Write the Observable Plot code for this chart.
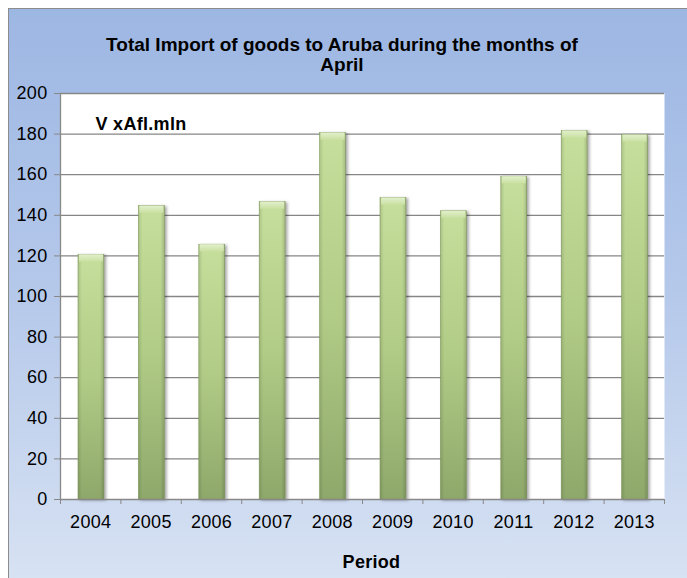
<!DOCTYPE html>
<html>
<head>
<meta charset="utf-8">
<script src="https://cdn.jsdelivr.net/npm/d3@7"></script>
<script src="https://cdn.jsdelivr.net/npm/@observablehq/plot@0.6"></script>
<style>
  html, body { margin: 0; padding: 0; background: #fff; }
  #wrap { position: relative; width: 687px; height: 578px; overflow: hidden; background: #fff;
          font-family: "Liberation Sans", Arial, sans-serif; }
  #frame { position: absolute; left: 8px; top: 8px; width: 720px; height: 620px;
           border-top: 1.5px solid #8c8c8c; border-left: 1.5px solid #8c8c8c; box-sizing: border-box;
           background: linear-gradient(to bottom, #9db7e3 0%, #b4c8ea 45%, #dde6f4 100%); }
  #title { position: absolute; left: 0; top: 35px; width: 684px; text-align: center;
           font-size: 19px; line-height: 20px; font-weight: bold; color: #000; }
  #chart { position: absolute; left: 0; top: 80px; }
  .chart text { letter-spacing: 0.3px; }
  .bar { filter: drop-shadow(2px 1px 1.5px rgba(0,0,0,0.35)); }
</style>
</head>
<body>
<div id="wrap">
  <div id="frame"></div>
  <div id="title">Total Import of goods to Aruba during the months of<br>April</div>
  <div id="chart"></div>
</div>
<script>
const years = ["2004", "2005", "2006", "2007", "2008", "2009", "2010", "2011", "2012", "2013"];
const values = [120.5, 144.5, 125.5, 146.5, 180.5, 148.5, 142, 159, 181.5, 179.5];
const yTicks = [0, 20, 40, 60, 80, 100, 120, 140, 160, 180, 200];
const unitLabel = "V xAfl.mln";
const xLabel = "Period";

const data = years.map((year, i) => ({year, i, value: values[i]}));

const defs = () => {
  const ns = "http://www.w3.org/2000/svg";
  const d = document.createElementNS(ns, "defs");
  d.innerHTML = `
    <linearGradient id="barGrad" x1="0" y1="0" x2="0" y2="1">
      <stop offset="0" stop-color="#c6df9c"/>
      <stop offset="0.5" stop-color="#b1cc86"/>
      <stop offset="1" stop-color="#8ea86b"/>
    </linearGradient>
    <linearGradient id="edgeGrad" x1="0" y1="0" x2="1" y2="0">
      <stop offset="0" stop-color="#000" stop-opacity="0.12"/>
      <stop offset="0.15" stop-color="#000" stop-opacity="0"/>
      <stop offset="0.85" stop-color="#000" stop-opacity="0"/>
      <stop offset="1" stop-color="#000" stop-opacity="0.15"/>
    </linearGradient>
    <linearGradient id="capGrad" x1="0" y1="0" x2="0" y2="1">
      <stop offset="0" stop-color="#e2f0cb"/>
      <stop offset="1" stop-color="#c9e0a2"/>
    </linearGradient>`;
  return d;
};

const chart = Plot.plot({
  width: 687,
  height: 498,
  marginLeft: 60,
  marginRight: 23,
  marginTop: 13,
  marginBottom: 79,
  className: "chart",
  style: {background: "transparent", fontFamily: "'Liberation Sans', Arial, sans-serif", fontSize: "18px", color: "#000"},
  x: {domain: [0, years.length], axis: null},
  y: {domain: [0, 200], axis: null},
  marks: [
    defs,
    Plot.frame({fill: "white"}),
    Plot.ruleY(yTicks.slice(1), {stroke: "#868686", strokeWidth: 1.3}),
    Plot.rectY(data, {x1: "i", x2: d => d.i + 1, y: "value", insetLeft: 18, insetRight: 16.5,
      fill: "url(#barGrad)", stroke: "#88a262", strokeWidth: 0.6, className: "bar"}),
    Plot.rectY(data, {x1: "i", x2: d => d.i + 1, y: "value", insetLeft: 18, insetRight: 16.5,
      fill: "url(#edgeGrad)"}),
    Plot.rectY(data, {x1: "i", x2: d => d.i + 1, y1: d => d.value - 3.5, y2: "value", insetLeft: 19, insetRight: 17.5,
      fill: "url(#capGrad)"}),
    Plot.ruleX([0], {stroke: "#888", strokeWidth: 1.3}),
    Plot.ruleY([0], {stroke: "#888", strokeWidth: 1.3}),
    Plot.axisY({ticks: yTicks, tickSize: 6, tickPadding: 7, stroke: "#888", fontSize: 18, label: null, tickFormat: d => String(d)}),
    Plot.axisX({ticks: d3.range(0, years.length + 1), tickSize: 5, tickFormat: () => "", stroke: "#888", label: null}),
    Plot.axisX({ticks: years.map((_, i) => i + 0.5), tickSize: 0, tickPadding: 16, fontSize: 18, label: null,
      tickFormat: v => years[Math.floor(v)]}),
    Plot.text([unitLabel], {frameAnchor: "top-left", textAnchor: "start", lineAnchor: "top",
      dx: 35, dy: 24, fontWeight: "bold", fontSize: 18}),
    Plot.text([xLabel], {frameAnchor: "bottom", lineAnchor: "top", dx: 9, dy: 56, fontWeight: "bold", fontSize: 18})
  ]
});
document.getElementById("chart").appendChild(chart);
</script>
</body>
</html>
